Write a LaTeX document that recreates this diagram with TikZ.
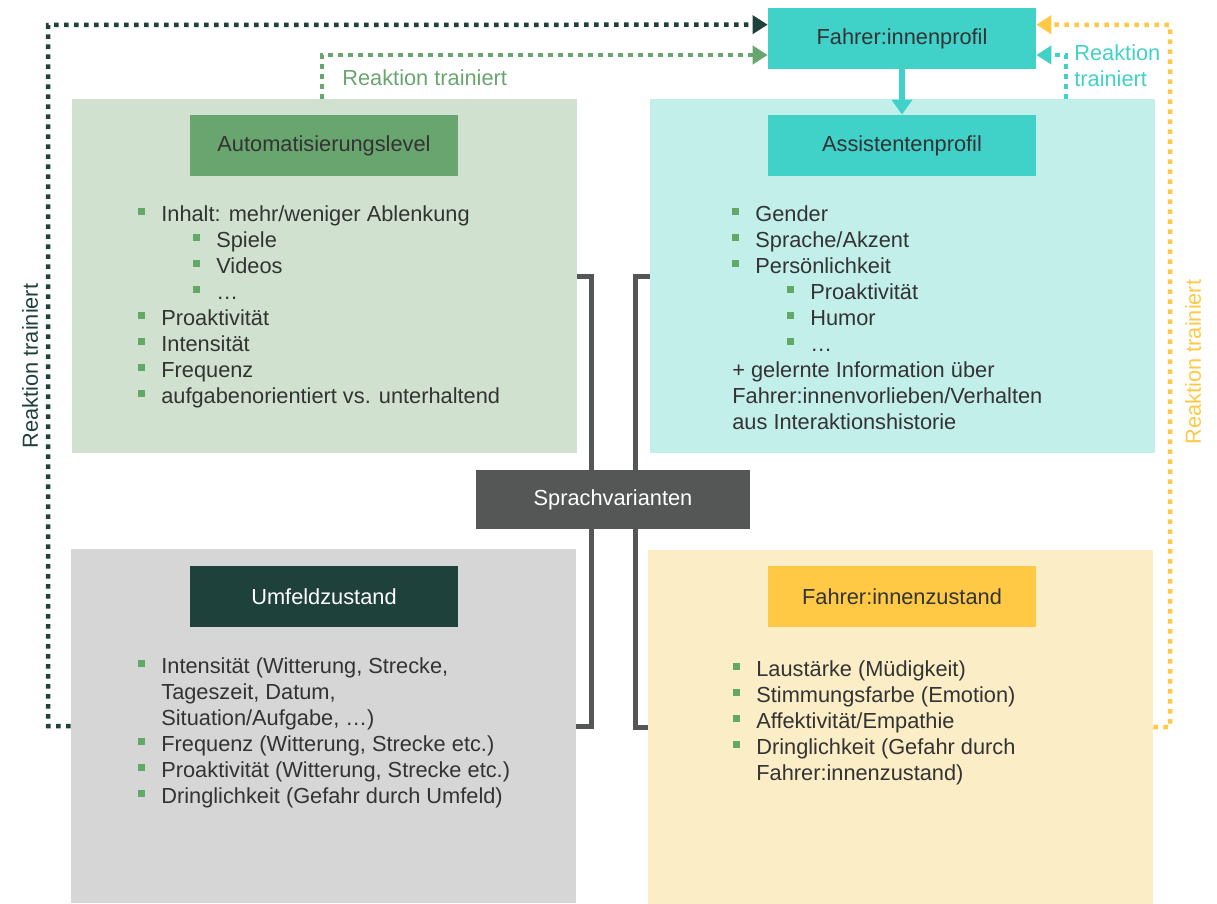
\documentclass[tikz,border=0pt]{standalone}
\usepackage{fontspec}
\setmainfont{Liberation Sans}
\usetikzlibrary{arrows.meta}
\definecolor{autolight}{HTML}{D0E2CF}
\definecolor{autogreen}{HTML}{69A66F}
\definecolor{assistlight}{HTML}{C3EFEB}
\definecolor{assistteal}{HTML}{40D1C9}
\definecolor{umflight}{HTML}{D6D6D6}
\definecolor{umfdark}{HTML}{1F413C}
\definecolor{fzlight}{HTML}{FBEDC6}
\definecolor{fzyellow}{HTML}{FFC945}
\definecolor{sprachgray}{HTML}{555757}
\definecolor{textgray}{HTML}{333333}
\definecolor{bulletgreen}{HTML}{62A866}
\newcommand\bl{\makebox[0.46cm][l]{\textcolor{bulletgreen}{\rule[0.12cm]{0.14cm}{0.14cm}}}}
\newcommand\subbl{\hspace*{1.1cm}\bl}
\newcommand\cont{\hspace*{0.46cm}}
\newcommand\txtfont{\fontsize{12.4}{14.8}\selectfont}
\begin{document}
\begin{tikzpicture}[x=0.02cm, y=-0.02cm,
  bg/.style={fill=#1, minimum width=10.1cm, minimum height=7.08cm, inner sep=0},
  head/.style={fill=#1, minimum width=5.36cm, minimum height=1.22cm, inner sep=0, text=textgray, font=\txtfont},
  txt/.style={anchor=north west, inner sep=0, align=left, text=textgray, font=\txtfont},
  dots/.style={draw=#1, line width=0.09cm, dash pattern=on 0.09cm off 0.11cm},
  tip/.style={-{Triangle[length=0.3cm, width=0.36cm]}},
  lbl/.style={text=#1, inner sep=0, font=\txtfont},
  bracket/.style={draw=sprachgray, line width=0.1cm}]
\useasboundingbox (0,0) rectangle (1217,903);
\begin{scope}
\node[bg=autolight] (autobg) at (324.5, 276) {};
\node[bg=assistlight] (assistbg) at (902.5, 276) {};
\node[bg=umflight] (umfbg) at (323.5, 726) {};
\node[bg=fzlight] (fzbg) at (900.5, 727) {};
\end{scope}
\begin{scope}
\node[head=autogreen] (autohd) at (324, 145.5) {Automatisierungslevel};
\node[head=assistteal] (assisthd) at (902, 145.5) {Assistentenprofil};
\node[head=umfdark, text=white] (umfhd) at (324, 596.5) {Umfeldzustand};
\node[head=fzyellow] (fzhd) at (902, 596.5) {Fahrer:innenzustand};
\node[head=assistteal] (profil) at (902, 38.5) {Fahrer:innenprofil};
\end{scope}
\begin{scope}[every node/.style = {txt}]
\node (autotxt) at (138, 205) {\bl Inhalt: mehr/weniger Ablenkung\\
\subbl Spiele\\
\subbl Videos\\
\subbl …\\
\bl Proaktivität\\
\bl Intensität\\
\bl Frequenz\\
\bl aufgabenorientiert vs. unterhaltend};
\node (assisttxt) at (732, 205) {\bl Gender\\
\bl Sprache/Akzent\\
\bl Persönlichkeit\\
\subbl Proaktivität\\
\subbl Humor\\
\subbl …\\
+ gelernte Information über\\
Fahrer:innenvorlieben/Verhalten\\
aus Interaktionshistorie};
\node (umftxt) at (138, 657) {\bl Intensität (Witterung, Strecke,\\
\cont Tageszeit, Datum,\\
\cont Situation/Aufgabe, …)\\
\bl Frequenz (Witterung, Strecke etc.)\\
\bl Proaktivität (Witterung, Strecke etc.)\\
\bl Dringlichkeit (Gefahr durch Umfeld)};
\node (fztxt) at (733, 660) {\bl Laustärke (Müdigkeit)\\
\bl Stimmungsfarbe (Emotion)\\
\bl Affektivität/Empathie\\
\bl Dringlichkeit (Gefahr durch\\
\cont Fahrer:innenzustand)};
\end{scope}
\draw[bracket] (autobg.east) -- ++(14, 0) |- (umfbg.east);
\draw[bracket] (assistbg.west) -- ++(-14, 0) |- (fzbg.west);
\node[head=sprachgray, text=white, minimum width=5.48cm, minimum height=1.18cm] (sprach) at (613, 499.5) {Sprachvarianten};
\draw[dots=umfdark, tip, umfdark] (umfbg.west) -| (48, 25) -- ([yshift=-0.34cm]profil.north west);
\draw[dots=autogreen, tip, autogreen] ([xshift=-0.05cm]autobg.north) |- ([yshift=-0.33cm]profil.west);
\draw[dots=assistteal, tip, assistteal] ([xshift=3.27cm]assistbg.north) |- ([yshift=-0.33cm]profil.east);
\draw[dots=fzyellow, tip, fzyellow] (fzbg.east) -| (1170, 25) -- ([yshift=-0.34cm]profil.north east);
\draw[assistteal, line width=0.12cm, -{Triangle[length=0.3cm, width=0.4cm]}] (profil.south) -- (assisthd.north);
\node[lbl=autogreen, anchor=west] (autolbl) at (342, 78) {Reaktion trainiert};
\node[lbl=assistteal, anchor=west, align=left] (assistlbl) at (1074, 66) {Reaktion\\trainiert};
\node[lbl=umfdark, rotate=90] (umflbl) at (30, 366) {Reaktion trainiert};
\node[lbl=fzyellow, rotate=90] (fzlbl) at (1193, 362) {Reaktion trainiert};
\end{tikzpicture}
\end{document}
